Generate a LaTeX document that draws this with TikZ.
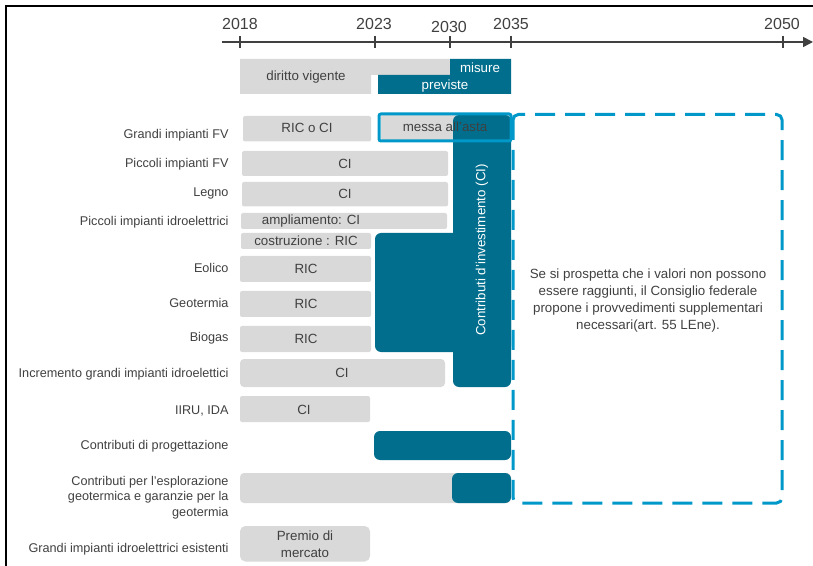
\documentclass[tikz,border=0pt]{standalone}
\usepackage{fontspec}
\setmainfont{Liberation Sans}
\usetikzlibrary{arrows.meta}
\definecolor{tealCI}{RGB}{0,110,140}
\definecolor{grayBox}{RGB}{217,217,217}
\definecolor{cyanLine}{RGB}{0,152,200}
\definecolor{txtGray}{RGB}{64,64,64}

\tikzset{every picture/.style={line width=0.75pt}}
\tikzset{
  graybox/.style={fill=grayBox, rounded corners=1.5pt},
  tealbox/.style={fill=tealCI, rounded corners=4.5pt},
  rowlabel/.style={anchor=east, inner sep=0.75pt, text=txtGray, align=right, font=\fontsize{9.5}{11.6}\selectfont},
  boxtext/.style={inner sep=0.75pt, text=txtGray, align=center, font=\fontsize{10}{12.5}\selectfont},
  whitetext/.style={inner sep=0.75pt, text=white, font=\fontsize{10}{12}\selectfont},
  yearlabel/.style={inner sep=0.75pt, text=txtGray, font=\fontsize{12}{14}\selectfont},
}

\begin{document}
\begin{tikzpicture}[x=1pt,y=1pt,yscale=-1,xscale=1,x=0.75pt,y=0.75pt]
\useasboundingbox (0,0) rectangle (813,566);

%Shape: Frame
\draw [line width=1.5pt] (5.5,566) -- (5.5,6.5) -- (813,6.5) ;

%Shape: Axis
\draw [color=txtGray, line width=1.1pt, -{Triangle[length=7.5pt,width=7.5pt]}] (222,42) -- (813,42) ;
\foreach \tx in {240,375,450,511,783}
  \draw [color=txtGray, line width=1pt] (\tx,36) -- (\tx,48) ;

% Text Node
\draw (240,24) node [yearlabel] (y2018) {2018};
% Text Node
\draw (374,24) node [yearlabel] (y2023) {2023};
% Text Node
\draw (449,26.5) node [yearlabel] (y2030) {2030};
% Text Node
\draw (511,24) node [yearlabel] (y2035) {2035};
% Text Node
\draw (782,24) node [yearlabel] (y2050) {2050};

%Shape: Polygon (diritto vigente)
\fill [grayBox] (240,59) -- (450,59) -- (450,75) -- (371,75) -- (371,94) -- (240,94) -- cycle ;
%Shape: Polygon (misure previste)
\fill [tealCI] (450,59) -- (511,59) -- (511,94) -- (378,94) -- (378,75) -- (450,75) -- cycle ;
% Text Node
\draw (306,77) node [boxtext] (dirVig) {diritto vigente};
% Text Node
\draw (480,68) node [whitetext] (misure) {misure};
% Text Node
\draw (445,86) node [whitetext] (previste) {previste};

%Shape: Rectangles (rows)
\fill [graybox] (243,116) rectangle (371,141.5) ;
\fill [graybox] (381,115) rectangle (511,140) ;
\fill [graybox] (242,151) rectangle (448,176) ;
\fill [graybox] (242,182) rectangle (448,206.5) ;
\fill [graybox] (241,213) rectangle (447,229) ;
\fill [graybox] (241,233) rectangle (371,249) ;
\fill [graybox] (240,256) rectangle (371,282) ;
\fill [graybox] (240,291) rectangle (371,317) ;
\fill [graybox] (240,326) rectangle (371,352) ;
\fill [graybox, rounded corners=3pt] (240,359) rectangle (445,387) ;
\fill [graybox] (240,396) rectangle (370,422) ;

%Shape: Rounded Rectangles (contributi d'investimento)
\fill [tealbox] (375,233) rectangle (511,352) ;
\fill [tealbox] (453,115) rectangle (511,387) ;

%Shape: Rectangle (messa all'asta)
\draw [cyanLine, line width=2.25pt, rounded corners=1.5pt] (379,114) rectangle (511,141) ;

% Text Node
\draw (307,128) node [boxtext] (ricFV) {RIC o CI};
% Text Node
\draw (445,127) node [boxtext] (asta) {messa all'asta};
% Text Node
\draw (345,163.5) node [boxtext] (ciPFV) {CI};
% Text Node
\draw (345,193.5) node [boxtext] (ciLegno) {CI};
% Text Node
\draw (311,221.5) node [boxtext] (ampl) {ampliamento: CI};
% Text Node
\draw (306,241) node [boxtext] (costr) {costruzione : RIC};
% Text Node
\draw (306,269) node [boxtext] (ricEol) {RIC};
% Text Node
\draw (306,304) node [boxtext] (ricGeo) {RIC};
% Text Node
\draw (306,339) node [boxtext] (ricBio) {RIC};
% Text Node
\draw (342,373) node [boxtext] (ciIncr) {CI};
% Text Node
\draw (304,409.5) node [boxtext] (ciIiru) {CI};
% Text Node
\draw (482,250) node [whitetext, rotate=90] (contrCI) {Contributi d'investimento (CI)};

%Shape: Rounded Rectangles (bottom rows)
\fill [tealbox] (374,431) rectangle (511,460) ;
\fill [graybox, rounded corners=3pt] (240,473) rectangle (511,503) ;
\fill [tealbox] (452,473) rectangle (511,503) ;
\fill [graybox, rounded corners=4pt] (240,526) rectangle (370,561.5) ;
% Text Node
\draw (305,544) node [boxtext] (premio) {Premio di\\mercato};

%Shape: Dashed Rectangle
\draw [cyanLine, line width=2.25pt, rounded corners=4pt, dash pattern=on 15pt off 7.5pt] (513,114.5) rectangle (782,503) ;
% Text Node
\draw (648,301) node [boxtext, font=\fontsize{10}{12.75}\selectfont] (nota) {Se si prospetta che i valori non possono\\essere raggiunti, il Consiglio federale\\propone i provvedimenti supplementari\\necessari(art. 55 LEne).};

% Text Node
\draw (230,135.5) node [rowlabel] (lGrandiFV) {Grandi impianti FV};
% Text Node
\draw (230,164) node [rowlabel] (lPiccoliFV) {Piccoli impianti FV};
% Text Node
\draw (230,193) node [rowlabel] (lLegno) {Legno};
% Text Node
\draw (230,222) node [rowlabel] (lPiccoliIdro) {Piccoli impianti idroelettrici};
% Text Node
\draw (230,268) node [rowlabel] (lEolico) {Eolico};
% Text Node
\draw (230,302.5) node [rowlabel] (lGeo) {Geotermia};
% Text Node
\draw (230,338) node [rowlabel] (lBiogas) {Biogas};
% Text Node
\draw (230,374) node [rowlabel] (lIncr) {Incremento grandi impianti idroelettici};
% Text Node
\draw (230,410.5) node [rowlabel] (lIiru) {IIRU, IDA};
% Text Node
\draw (230,446.5) node [rowlabel] (lProg) {Contributi di progettazione};
% Text Node
\draw (230,497.5) node [rowlabel] (lEspl) {Contributi per l'esplorazione\\geotermica e garanzie per la\\geotermia};
% Text Node
\draw (230,549) node [rowlabel] (lEsist) {Grandi impianti idroelettrici esistenti};

\end{tikzpicture}
\end{document}
